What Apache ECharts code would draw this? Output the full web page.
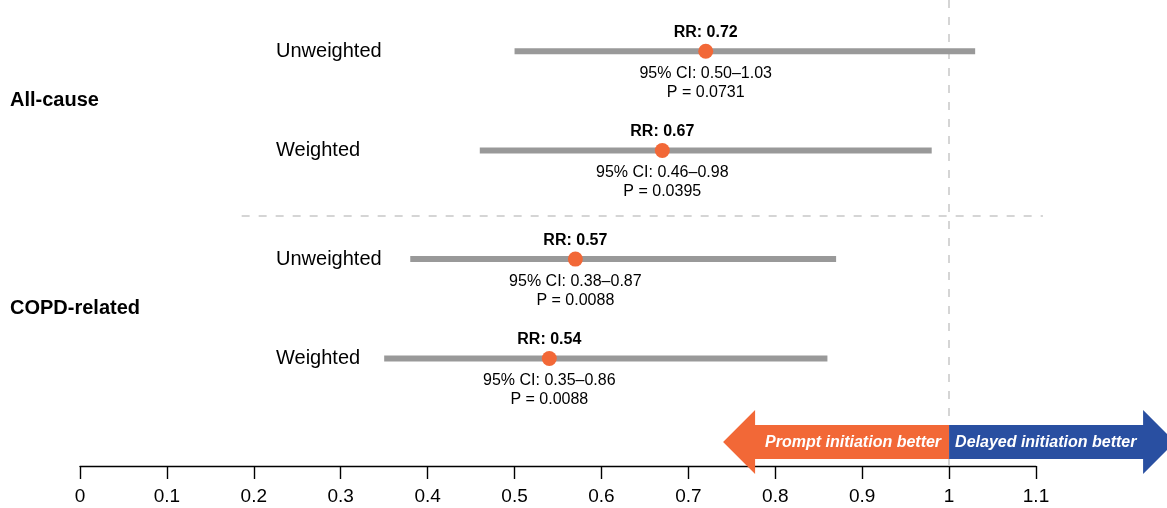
<!DOCTYPE html>
<html>
<head>
<meta charset="utf-8">
<script src="https://cdn.jsdelivr.net/npm/echarts@6/dist/echarts.min.js"></script>
<style>
  html, body { margin: 0; padding: 0; background: #fff; }
  #chart { width: 1167px; height: 508px; }
</style>
</head>
<body>
<div id="chart"></div>
<script>
// Outcome groups and the rows that belong to each of them
const groupNames = ['All-cause', 'COPD-related'];
const rowLabels = ['Unweighted', 'Weighted', 'Unweighted', 'Weighted'];
const rowGroup = [0, 0, 1, 1];

// Rate ratios with 95% confidence limits and p-values
const rateRatio = [0.72, 0.67, 0.57, 0.54];
const ciLower = [0.50, 0.46, 0.38, 0.35];
const ciUpper = [1.03, 0.98, 0.87, 0.86];
const pValues = ['0.0731', '0.0395', '0.0088', '0.0088'];

// Axis ticks and the direction captions under the null line
const xTicks = [0, 0.1, 0.2, 0.3, 0.4, 0.5, 0.6, 0.7, 0.8, 0.9, 1, 1.1];
const directionLabels = ['Prompt initiation better', 'Delayed initiation better'];

const FONT = '"Liberation Sans", Arial, Helvetica, sans-serif';
const ORANGE = '#F26837';
const BLUE = '#294FA1';
const GREY = '#999999';

// Vertical slot of each row: rows step by a constant, groups get a little extra gap
const rowPos = rowLabels.map((_, i) => i * 0.97 + rowGroup[i] * 0.09);
const groupPos = groupNames.map((_, g) => {
  const ps = rowPos.filter((_, i) => rowGroup[i] === g);
  return ps.reduce((a, b) => a + b, 0) / ps.length;
});
const Y_MIN = -0.5, Y_MAX = 4.05;
const separatorPos = 1.61;
const separatorSpan = [0.186, 1.108];

const chart = echarts.init(document.getElementById('chart'), null, { renderer: 'canvas' });

const option = {
  animation: false,
  textStyle: { fontFamily: FONT },
  grid: { left: 80, right: 131, top: 0, bottom: 42 },
  xAxis: {
    type: 'value',
    min: xTicks[0],
    max: xTicks[xTicks.length - 1],
    interval: 0.1,
    axisLine: { show: true, onZero: false, lineStyle: { color: '#000', width: 1.4 } },
    axisTick: { show: true, length: 13, lineStyle: { color: '#000', width: 1.4 } },
    axisLabel: {
      fontSize: 19, color: '#000', margin: 21, fontFamily: FONT,
      formatter: v => String(Math.round(v * 10) / 10)
    },
    splitLine: { show: false }
  },
  yAxis: {
    type: 'value', inverse: true, min: Y_MIN, max: Y_MAX, show: false
  },
  series: [
    {
      // confidence intervals, point estimates and their annotations
      type: 'custom',
      z: 5,
      data: rowLabels.map((_, i) => [ciLower[i], ciUpper[i], rateRatio[i], rowPos[i]]),
      encode: { x: [0, 1, 2], y: 3 },
      renderItem: function (params, api) {
        const i = params.dataIndex;
        const lo = api.coord([api.value(0), api.value(3)]);
        const hi = api.coord([api.value(1), api.value(3)]);
        const pt = api.coord([api.value(2), api.value(3)]);
        const txt = (x, y, text, extra) => ({
          type: 'text',
          style: Object.assign({
            x: x, y: y, text: text, fill: '#000', fontFamily: FONT, fontSize: 16,
            align: 'center', verticalAlign: 'middle'
          }, extra || {})
        });
        return {
          type: 'group',
          children: [
            { type: 'line', shape: { x1: lo[0], y1: lo[1], x2: hi[0], y2: hi[1] },
              style: { stroke: GREY, lineWidth: 6 } },
            { type: 'circle', shape: { cx: pt[0], cy: pt[1], r: 7.5 }, style: { fill: ORANGE } },
            txt(pt[0], pt[1] - 19, 'RR: ' + rateRatio[i].toFixed(2), { fontWeight: 'bold' }),
            txt(pt[0], pt[1] + 22, '95% CI: ' + ciLower[i].toFixed(2) + '\u2013' + ciUpper[i].toFixed(2)),
            txt(pt[0], pt[1] + 41.5, 'P = ' + pValues[i]),
            txt(276, pt[1], rowLabels[i], { fontSize: 20, align: 'left' })
          ]
        };
      },
      markLine: {
        silent: true,
        symbol: 'none',
        label: { show: false },
        lineStyle: { color: '#c8c8c8', width: 1.5, type: [8, 9] },
        data: [{ xAxis: 1 }]
      }
    },
    {
      // outcome group captions on the left, plus the divider between groups
      type: 'custom',
      z: 5,
      data: groupNames.map((_, g) => [0, groupPos[g]]),
      encode: { x: 0, y: 1 },
      renderItem: function (params, api) {
        const p = api.coord([api.value(0), api.value(1)]);
        const children = [{
          type: 'text',
          style: {
            x: 10, y: p[1], text: groupNames[params.dataIndex], fill: '#000',
            fontFamily: FONT, fontSize: 20, fontWeight: 'bold',
            align: 'left', verticalAlign: 'middle'
          }
        }];
        if (params.dataIndex === 0) {
          const a = api.coord([separatorSpan[0], separatorPos]);
          const b = api.coord([separatorSpan[1], separatorPos]);
          children.push({
            type: 'line',
            shape: { x1: a[0], y1: a[1], x2: b[0], y2: b[1] },
            style: { stroke: '#c8c8c8', lineWidth: 1.5, lineDash: [8, 9] }
          });
        }
        return { type: 'group', children: children };
      }
    },
    {
      // direction arrows anchored at the null value
      type: 'custom',
      z: 10,
      data: [[1, Y_MAX]],
      encode: { x: 0, y: 1 },
      renderItem: function (params, api) {
        const base = api.coord([api.value(0), api.value(1)]);
        const bx = base[0];
        const cy = base[1] - 24;
        const body = 17, head = 32, headStart = 194, tip = 226;
        const arrow = dir => [
          [bx, cy - body], [bx + dir * headStart, cy - body], [bx + dir * headStart, cy - head],
          [bx + dir * tip, cy], [bx + dir * headStart, cy + head], [bx + dir * headStart, cy + body],
          [bx, cy + body]
        ];
        const caption = (x, text, align) => ({
          type: 'text',
          style: {
            x: x, y: cy + 1, text: text, fill: '#fff', fontFamily: FONT, fontSize: 16,
            fontWeight: 'bold', fontStyle: 'italic', align: align, verticalAlign: 'middle'
          }
        });
        return {
          type: 'group',
          children: [
            { type: 'polygon', shape: { points: arrow(-1) }, style: { fill: ORANGE } },
            { type: 'polygon', shape: { points: arrow(1) }, style: { fill: BLUE } },
            caption(bx - 8, directionLabels[0], 'right'),
            caption(bx + 6, directionLabels[1], 'left')
          ]
        };
      }
    }
  ]
};

chart.setOption(option);
</script>
</body>
</html>
